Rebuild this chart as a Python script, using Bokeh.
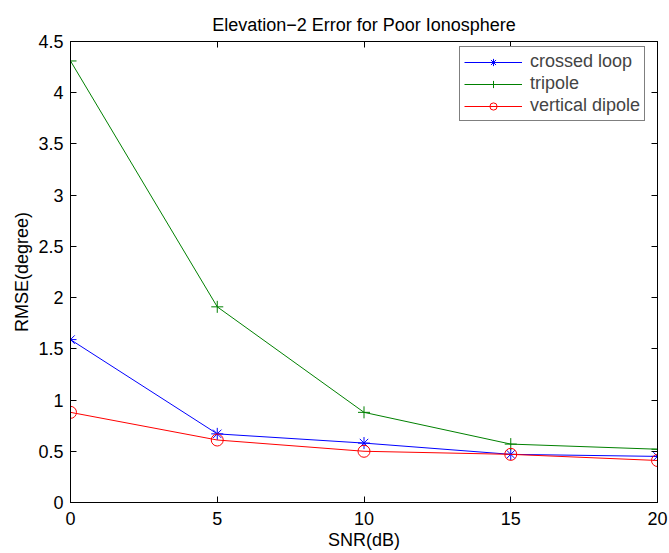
from bokeh.plotting import figure
from bokeh.models import Range1d, LinearAxis, FixedTicker, Legend, LegendItem, Title
from bokeh.embed import file_html
from bokeh.resources import INLINE

snr = [0, 5, 10, 15, 20]
crossed_loop = [1.59, 0.67, 0.58, 0.47, 0.45]
tripole = [4.31, 1.91, 0.88, 0.57, 0.52]
vertical_dipole = [0.88, 0.61, 0.50, 0.47, 0.41]
x_ticks = [0, 5, 10, 15, 20]
y_ticks = [0, 0.5, 1, 1.5, 2, 2.5, 3, 3.5, 4, 4.5]

FONT = "Liberation Sans"

p = figure(width=669, height=553, output_backend="svg", toolbar_location=None,
           x_range=Range1d(0, 20), y_range=Range1d(0, 4.5),
           min_border_left=70, min_border_right=12, min_border_top=41, min_border_bottom=51,
           x_axis_location=None, y_axis_location=None)
p.xgrid.visible = False
p.ygrid.visible = False
p.outline_line_color = "black"
p.outline_line_width = 1
p.background_fill_color = "white"
p.border_fill_color = "white"

def mk_axis(cls_ticks, labels=True, label_text=None):
    ax = LinearAxis(ticker=FixedTicker(ticks=cls_ticks))
    ax.major_tick_in = 6
    ax.major_tick_out = 0
    ax.minor_tick_line_color = None
    ax.axis_line_color = "black"
    ax.major_tick_line_color = "black"
    ax.major_label_text_font = FONT
    ax.major_label_text_font_size = "18px"
    ax.major_label_text_color = "black"
    if not labels:
        ax.major_label_text_font_size = "0px"
        ax.major_label_text_color = None
    if label_text:
        ax.axis_label = label_text
        ax.axis_label_text_font = FONT
        ax.axis_label_text_font_size = "18px"
        ax.axis_label_text_font_style = "normal"
        ax.axis_label_text_color = "black"
    return ax

xb = mk_axis(x_ticks, True, "SNR(dB)")
xb.major_label_standoff = 9
xb.axis_label_standoff = 2
p.add_layout(xb, "below")
yl = mk_axis(y_ticks, True, "RMSE(degree)")
yl.major_label_standoff = 7
yl.axis_label_standoff = 3
p.add_layout(yl, "left")
xt = mk_axis(x_ticks, False)
p.add_layout(xt, "above")
yr = mk_axis(y_ticks, False)
p.add_layout(yr, "right")

p.title = Title(text="Elevation\u22122 Error for Poor Ionosphere", align="center",
                text_font=FONT, text_font_size="18px", text_font_style="normal",
                text_color="black", standoff=14)

l1 = p.line(snr, crossed_loop, line_color="blue", line_width=1)
m1 = p.scatter(snr, crossed_loop, marker="asterisk", size=12, line_color="blue", line_width=1)
l2 = p.line(snr, tripole, line_color="green", line_width=1)
m2 = p.scatter(snr, tripole, marker="cross", size=12, line_color="green", line_width=1)
l3 = p.line(snr, vertical_dipole, line_color="red", line_width=1)
m3 = p.scatter(snr, vertical_dipole, marker="circle", size=12, line_color="red",
               fill_color=None, line_width=1)

legend = Legend(items=[
    LegendItem(label="crossed loop", renderers=[l1, m1]),
    LegendItem(label="tripole", renderers=[l2, m2]),
    LegendItem(label="vertical dipole", renderers=[l3, m3]),
], location=(389, 381))
legend.margin = 0
legend.label_text_font = FONT
legend.label_text_font_size = "18px"
legend.glyph_width = 58
legend.glyph_height = 18
legend.label_height = 18
legend.spacing = 1
legend.padding = 4
legend.label_standoff = 8
legend.border_line_color = "black"
legend.border_line_width = 1
legend.background_fill_alpha = 1
p.add_layout(legend, "center")

open("out.html", "w").write(file_html(p, INLINE))
